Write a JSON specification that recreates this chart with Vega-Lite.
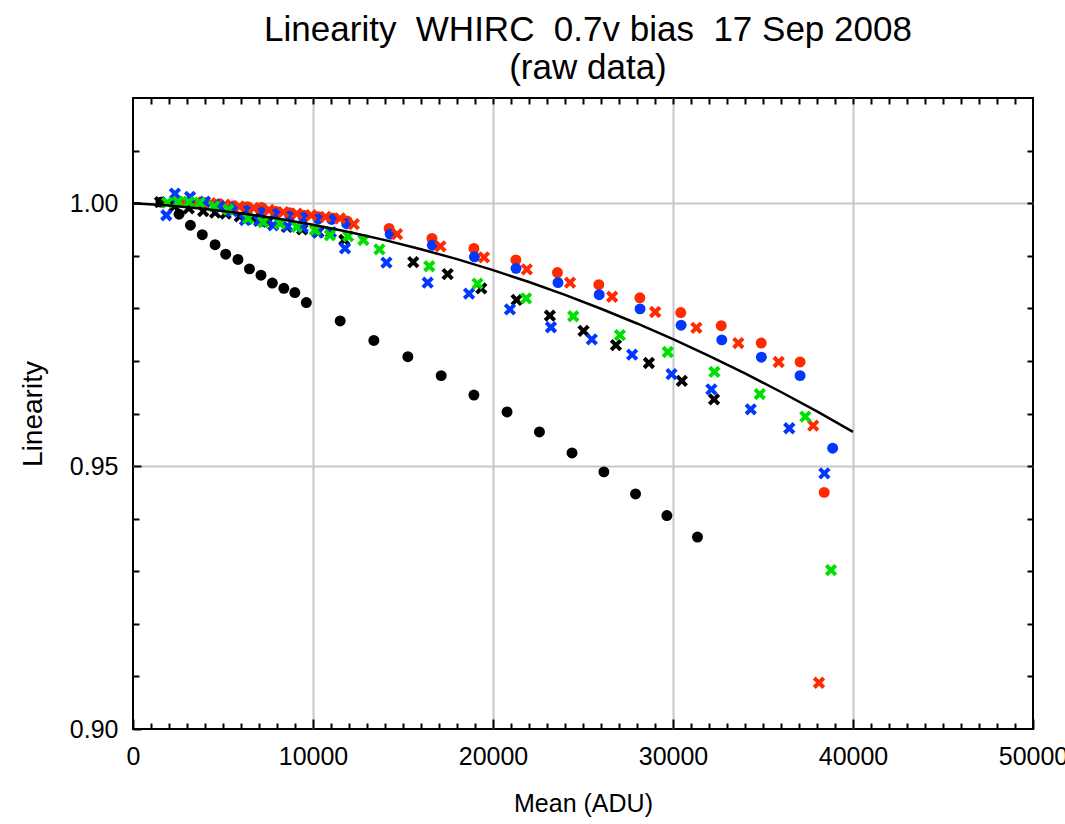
{
  "$schema": "https://vega.github.io/schema/vega-lite/v6.json",
  "width": 900,
  "height": 631,
  "autosize": {"type": "none"},
  "padding": {"left": 133, "top": 98, "right": 32, "bottom": 95},
  "background": "white",
  "title": {
    "text": ["Linearity \u00a0WHIRC \u00a00.7v bias \u00a017 Sep 2008", "(raw data)"],
    "fontSize": 35, "font": "Liberation Sans", "fontWeight": "normal", "color": "black",
    "anchor": "middle", "offset": 11, "lineHeight": 38, "dx": 5
  },
  "config": {
    "view": {"stroke": "black", "strokeWidth": 2},
    "axis": {
      "domain": false, "tickColor": "black", "tickWidth": 2,
      "labelFont": "Liberation Sans", "titleFont": "Liberation Sans",
      "labelColor": "black", "titleColor": "black", "titleFontWeight": "normal",
      "labelFlush": false, "labelOverlap": false
    }
  },
  "datasets": {
    "points": [
      {"series":"black","marker":"circle","mean":1550,"linearity":1.0002},
      {"series":"black","marker":"circle","mean":2560,"linearity":0.9979},
      {"series":"black","marker":"circle","mean":3190,"linearity":0.9958},
      {"series":"black","marker":"circle","mean":3850,"linearity":0.9940},
      {"series":"black","marker":"circle","mean":4560,"linearity":0.9921},
      {"series":"black","marker":"circle","mean":5150,"linearity":0.9903},
      {"series":"black","marker":"circle","mean":5830,"linearity":0.9893},
      {"series":"black","marker":"circle","mean":6470,"linearity":0.9875},
      {"series":"black","marker":"circle","mean":7110,"linearity":0.9863},
      {"series":"black","marker":"circle","mean":7740,"linearity":0.9848},
      {"series":"black","marker":"circle","mean":8380,"linearity":0.9838},
      {"series":"black","marker":"circle","mean":8990,"linearity":0.9830},
      {"series":"black","marker":"circle","mean":9630,"linearity":0.9811},
      {"series":"black","marker":"circle","mean":11510,"linearity":0.9776},
      {"series":"black","marker":"circle","mean":13380,"linearity":0.9739},
      {"series":"black","marker":"circle","mean":15270,"linearity":0.9708},
      {"series":"black","marker":"circle","mean":17120,"linearity":0.9672},
      {"series":"black","marker":"circle","mean":18940,"linearity":0.9635},
      {"series":"black","marker":"circle","mean":20780,"linearity":0.9603},
      {"series":"black","marker":"circle","mean":22580,"linearity":0.9565},
      {"series":"black","marker":"circle","mean":24390,"linearity":0.9525},
      {"series":"black","marker":"circle","mean":26160,"linearity":0.9489},
      {"series":"black","marker":"circle","mean":27920,"linearity":0.9447},
      {"series":"black","marker":"circle","mean":29660,"linearity":0.9406},
      {"series":"black","marker":"circle","mean":31360,"linearity":0.9365},

      {"series":"red","marker":"circle","mean":2400,"linearity":1.0004},
      {"series":"red","marker":"circle","mean":3200,"linearity":1.0002},
      {"series":"red","marker":"circle","mean":4000,"linearity":1.0001},
      {"series":"red","marker":"circle","mean":4800,"linearity":0.9999},
      {"series":"red","marker":"circle","mean":5600,"linearity":0.9995},
      {"series":"red","marker":"circle","mean":6350,"linearity":0.9993},
      {"series":"red","marker":"circle","mean":7150,"linearity":0.9992},
      {"series":"red","marker":"circle","mean":7950,"linearity":0.9984},
      {"series":"red","marker":"circle","mean":8700,"linearity":0.9982},
      {"series":"red","marker":"circle","mean":9500,"linearity":0.9977},
      {"series":"red","marker":"circle","mean":10300,"linearity":0.9974},
      {"series":"red","marker":"circle","mean":11100,"linearity":0.9972},
      {"series":"red","marker":"circle","mean":11900,"linearity":0.9966},
      {"series":"red","marker":"circle","mean":14230,"linearity":0.9952},
      {"series":"red","marker":"circle","mean":16610,"linearity":0.9933},
      {"series":"red","marker":"circle","mean":18940,"linearity":0.9914},
      {"series":"red","marker":"circle","mean":21270,"linearity":0.9892},
      {"series":"red","marker":"circle","mean":23580,"linearity":0.9868},
      {"series":"red","marker":"circle","mean":25880,"linearity":0.9845},
      {"series":"red","marker":"circle","mean":28160,"linearity":0.9820},
      {"series":"red","marker":"circle","mean":30430,"linearity":0.9792},
      {"series":"red","marker":"circle","mean":32680,"linearity":0.9767},
      {"series":"red","marker":"circle","mean":34900,"linearity":0.9734},
      {"series":"red","marker":"circle","mean":37060,"linearity":0.9698},
      {"series":"red","marker":"circle","mean":38400,"linearity":0.9450},

      {"series":"blue","marker":"circle","mean":2400,"linearity":1.0003},
      {"series":"blue","marker":"circle","mean":3200,"linearity":1.0002},
      {"series":"blue","marker":"circle","mean":4000,"linearity":1.0000},
      {"series":"blue","marker":"circle","mean":4800,"linearity":0.9997},
      {"series":"blue","marker":"circle","mean":5600,"linearity":0.9992},
      {"series":"blue","marker":"circle","mean":6350,"linearity":0.9986},
      {"series":"blue","marker":"circle","mean":7150,"linearity":0.9983},
      {"series":"blue","marker":"circle","mean":7930,"linearity":0.9980},
      {"series":"blue","marker":"circle","mean":8720,"linearity":0.9975},
      {"series":"blue","marker":"circle","mean":9460,"linearity":0.9973},
      {"series":"blue","marker":"circle","mean":10290,"linearity":0.9970},
      {"series":"blue","marker":"circle","mean":11040,"linearity":0.9969},
      {"series":"blue","marker":"circle","mean":11870,"linearity":0.9961},
      {"series":"blue","marker":"circle","mean":14290,"linearity":0.9941},
      {"series":"blue","marker":"circle","mean":16630,"linearity":0.9920},
      {"series":"blue","marker":"circle","mean":18970,"linearity":0.9898},
      {"series":"blue","marker":"circle","mean":21280,"linearity":0.9876},
      {"series":"blue","marker":"circle","mean":23610,"linearity":0.9849},
      {"series":"blue","marker":"circle","mean":25900,"linearity":0.9826},
      {"series":"blue","marker":"circle","mean":28170,"linearity":0.9799},
      {"series":"blue","marker":"circle","mean":30450,"linearity":0.9768},
      {"series":"blue","marker":"circle","mean":32710,"linearity":0.9740},
      {"series":"blue","marker":"circle","mean":34910,"linearity":0.9707},
      {"series":"blue","marker":"circle","mean":37060,"linearity":0.9672},
      {"series":"blue","marker":"circle","mean":38870,"linearity":0.9534},

      {"series":"black","marker":"cross","mean":1500,"linearity":1.0002},
      {"series":"black","marker":"cross","mean":2300,"linearity":0.9994},
      {"series":"black","marker":"cross","mean":3100,"linearity":0.9990},
      {"series":"black","marker":"cross","mean":3900,"linearity":0.9985},
      {"series":"black","marker":"cross","mean":4560,"linearity":0.9982},
      {"series":"black","marker":"cross","mean":5150,"linearity":0.9980},
      {"series":"black","marker":"cross","mean":5930,"linearity":0.9975},
      {"series":"black","marker":"cross","mean":6700,"linearity":0.9970},
      {"series":"black","marker":"cross","mean":7500,"linearity":0.9965},
      {"series":"black","marker":"cross","mean":8550,"linearity":0.9955},
      {"series":"black","marker":"cross","mean":9400,"linearity":0.9950},
      {"series":"black","marker":"cross","mean":10300,"linearity":0.9945},
      {"series":"black","marker":"cross","mean":11740,"linearity":0.9930},
      {"series":"black","marker":"cross","mean":15570,"linearity":0.9888},
      {"series":"black","marker":"cross","mean":17480,"linearity":0.9865},
      {"series":"black","marker":"cross","mean":19350,"linearity":0.9838},
      {"series":"black","marker":"cross","mean":21310,"linearity":0.9816},
      {"series":"black","marker":"cross","mean":23160,"linearity":0.9786},
      {"series":"black","marker":"cross","mean":25030,"linearity":0.9757},
      {"series":"black","marker":"cross","mean":26830,"linearity":0.9730},
      {"series":"black","marker":"cross","mean":28660,"linearity":0.9696},
      {"series":"black","marker":"cross","mean":30490,"linearity":0.9662},
      {"series":"black","marker":"cross","mean":32280,"linearity":0.9627},

      {"series":"red","marker":"cross","mean":2700,"linearity":1.0002},
      {"series":"red","marker":"cross","mean":3500,"linearity":1.0001},
      {"series":"red","marker":"cross","mean":4300,"linearity":1.0000},
      {"series":"red","marker":"cross","mean":5100,"linearity":0.9997},
      {"series":"red","marker":"cross","mean":5900,"linearity":0.9994},
      {"series":"red","marker":"cross","mean":6700,"linearity":0.9991},
      {"series":"red","marker":"cross","mean":7550,"linearity":0.9987},
      {"series":"red","marker":"cross","mean":8350,"linearity":0.9983},
      {"series":"red","marker":"cross","mean":9100,"linearity":0.9980},
      {"series":"red","marker":"cross","mean":9900,"linearity":0.9977},
      {"series":"red","marker":"cross","mean":10700,"linearity":0.9974},
      {"series":"red","marker":"cross","mean":11500,"linearity":0.9971},
      {"series":"red","marker":"cross","mean":12270,"linearity":0.9960},
      {"series":"red","marker":"cross","mean":14670,"linearity":0.9941},
      {"series":"red","marker":"cross","mean":17080,"linearity":0.9918},
      {"series":"red","marker":"cross","mean":19500,"linearity":0.9897},
      {"series":"red","marker":"cross","mean":21880,"linearity":0.9874},
      {"series":"red","marker":"cross","mean":24280,"linearity":0.9849},
      {"series":"red","marker":"cross","mean":26620,"linearity":0.9822},
      {"series":"red","marker":"cross","mean":29010,"linearity":0.9793},
      {"series":"red","marker":"cross","mean":31300,"linearity":0.9763},
      {"series":"red","marker":"cross","mean":33630,"linearity":0.9734},
      {"series":"red","marker":"cross","mean":35870,"linearity":0.9698},
      {"series":"red","marker":"cross","mean":37790,"linearity":0.9577},
      {"series":"red","marker":"cross","mean":38110,"linearity":0.9088},

      {"series":"blue","marker":"cross","mean":1850,"linearity":0.9977},
      {"series":"blue","marker":"cross","mean":2330,"linearity":1.0018},
      {"series":"blue","marker":"cross","mean":3170,"linearity":1.0012},
      {"series":"blue","marker":"cross","mean":4000,"linearity":1.0003},
      {"series":"blue","marker":"cross","mean":4800,"linearity":0.9994},
      {"series":"blue","marker":"cross","mean":5500,"linearity":0.9985},
      {"series":"blue","marker":"cross","mean":6220,"linearity":0.9968},
      {"series":"blue","marker":"cross","mean":7000,"linearity":0.9966},
      {"series":"blue","marker":"cross","mean":7790,"linearity":0.9958},
      {"series":"blue","marker":"cross","mean":8600,"linearity":0.9956},
      {"series":"blue","marker":"cross","mean":9430,"linearity":0.9954},
      {"series":"blue","marker":"cross","mean":10260,"linearity":0.9944},
      {"series":"blue","marker":"cross","mean":11000,"linearity":0.9945},
      {"series":"blue","marker":"cross","mean":11780,"linearity":0.9914},
      {"series":"blue","marker":"cross","mean":14080,"linearity":0.9887},
      {"series":"blue","marker":"cross","mean":16370,"linearity":0.9849},
      {"series":"blue","marker":"cross","mean":18670,"linearity":0.9828},
      {"series":"blue","marker":"cross","mean":20940,"linearity":0.9798},
      {"series":"blue","marker":"cross","mean":23220,"linearity":0.9764},
      {"series":"blue","marker":"cross","mean":25490,"linearity":0.9741},
      {"series":"blue","marker":"cross","mean":27730,"linearity":0.9712},
      {"series":"blue","marker":"cross","mean":29920,"linearity":0.9675},
      {"series":"blue","marker":"cross","mean":32130,"linearity":0.9646},
      {"series":"blue","marker":"cross","mean":34320,"linearity":0.9608},
      {"series":"blue","marker":"cross","mean":36460,"linearity":0.9572},
      {"series":"blue","marker":"cross","mean":38410,"linearity":0.9486},

      {"series":"green","marker":"cross","mean":1900,"linearity":1.0001},
      {"series":"green","marker":"cross","mean":2500,"linearity":1.0003},
      {"series":"green","marker":"cross","mean":3100,"linearity":1.0002},
      {"series":"green","marker":"cross","mean":3700,"linearity":1.0001},
      {"series":"green","marker":"cross","mean":4500,"linearity":0.9994},
      {"series":"green","marker":"cross","mean":5300,"linearity":0.9988},
      {"series":"green","marker":"cross","mean":6400,"linearity":0.9971},
      {"series":"green","marker":"cross","mean":7240,"linearity":0.9964},
      {"series":"green","marker":"cross","mean":8170,"linearity":0.9961},
      {"series":"green","marker":"cross","mean":9100,"linearity":0.9955},
      {"series":"green","marker":"cross","mean":10110,"linearity":0.9949},
      {"series":"green","marker":"cross","mean":10940,"linearity":0.9939},
      {"series":"green","marker":"cross","mean":11950,"linearity":0.9937},
      {"series":"green","marker":"cross","mean":12800,"linearity":0.9930},
      {"series":"green","marker":"cross","mean":13690,"linearity":0.9912},
      {"series":"green","marker":"cross","mean":16460,"linearity":0.9880},
      {"series":"green","marker":"cross","mean":19140,"linearity":0.9847},
      {"series":"green","marker":"cross","mean":21840,"linearity":0.9819},
      {"series":"green","marker":"cross","mean":24460,"linearity":0.9785},
      {"series":"green","marker":"cross","mean":27050,"linearity":0.9749},
      {"series":"green","marker":"cross","mean":29710,"linearity":0.9717},
      {"series":"green","marker":"cross","mean":32300,"linearity":0.9679},
      {"series":"green","marker":"cross","mean":34820,"linearity":0.9637},
      {"series":"green","marker":"cross","mean":37350,"linearity":0.9594},
      {"series":"green","marker":"cross","mean":38780,"linearity":0.9302}
    ],
    "fit": [
      {"mean":0,"linearity":1.0000},
      {"mean":2000,"linearity":0.99954},
      {"mean":4000,"linearity":0.99889},
      {"mean":6000,"linearity":0.99807},
      {"mean":8000,"linearity":0.99707},
      {"mean":10000,"linearity":0.99588},
      {"mean":12000,"linearity":0.99452},
      {"mean":14000,"linearity":0.99297},
      {"mean":16000,"linearity":0.99125},
      {"mean":18000,"linearity":0.98935},
      {"mean":20000,"linearity":0.98726},
      {"mean":22000,"linearity":0.98500},
      {"mean":24000,"linearity":0.98255},
      {"mean":26000,"linearity":0.97992},
      {"mean":28000,"linearity":0.97712},
      {"mean":30000,"linearity":0.97413},
      {"mean":32000,"linearity":0.97097},
      {"mean":34000,"linearity":0.96762},
      {"mean":36000,"linearity":0.96409},
      {"mean":38000,"linearity":0.96039},
      {"mean":40000,"linearity":0.95650}
    ]
  },
  "resolve": {"axis": {"x": "independent", "y": "independent"}},
  "layer": [
    {
      "data": {"name": "points"},
      "transform": [{"filter": "datum.marker === 'circle'"}],
      "mark": {"type": "point", "shape": "circle", "filled": true, "size": 120, "opacity": 1},
      "encoding": {
        "x": {"field": "mean", "type": "quantitative",
          "scale": {"domain": [0, 50000], "nice": false, "zero": false},
          "axis": {"orient": "bottom", "values": [0, 10000, 20000, 30000, 40000, 50000], "format": "d",
            "tickSize": -10, "labelPadding": 25, "labelFontSize": 25,
            "title": "Mean (ADU)", "titleFontSize": 25, "titlePadding": 22,
            "grid": true, "gridColor": "#c8c8c8", "gridWidth": 2,
            "gridOpacity": {"condition": {"test": "datum.value == 0 || datum.value == 50000", "value": 0}, "value": 1}}},
        "y": {"field": "linearity", "type": "quantitative",
          "scale": {"domain": [0.9, 1.02], "nice": false, "zero": false},
          "axis": {"orient": "left", "values": [0.9, 0.95, 1.0], "format": ".2f",
            "tickSize": -8, "labelPadding": 23, "labelFontSize": 25,
            "title": "Linearity", "titleFontSize": 28, "titlePadding": 22,
            "grid": true, "gridColor": "#c8c8c8", "gridWidth": 2,
            "gridOpacity": {"condition": {"test": "datum.value == 0.9", "value": 0}, "value": 1}}},
        "color": {"field": "series", "type": "nominal", "legend": null,
          "scale": {"domain": ["black", "red", "blue", "green"], "range": ["#000000", "#ff2a00", "#0038ff", "#00e000"]}}
      }
    },
    {
      "data": {"name": "points"},
      "transform": [{"filter": "datum.marker === 'cross'"}],
      "mark": {"type": "point", "shape": "M-1,-1L1,1M-1,1L1,-1", "filled": false, "size": 90, "strokeWidth": 4, "opacity": 1},
      "encoding": {
        "x": {"field": "mean", "type": "quantitative",
          "axis": {"orient": "bottom", "values": [1000,2000,3000,4000,5000,6000,7000,8000,9000,11000,12000,13000,14000,15000,16000,17000,18000,19000,21000,22000,23000,24000,25000,26000,27000,28000,29000,31000,32000,33000,34000,35000,36000,37000,38000,39000,41000,42000,43000,44000,45000,46000,47000,48000,49000],
            "tickSize": -6, "labels": false, "title": null, "grid": false}},
        "y": {"field": "linearity", "type": "quantitative",
          "axis": {"orient": "left", "values": [0.91, 0.92, 0.93, 0.94, 0.96, 0.97, 0.98, 0.99, 1.01],
            "tickSize": -6, "labels": false, "title": null, "grid": false}},
        "color": {"field": "series", "type": "nominal", "legend": null}
      }
    },
    {
      "data": {"name": "fit"},
      "mark": {"type": "line", "color": "black", "strokeWidth": 2.5},
      "encoding": {
        "x": {"field": "mean", "type": "quantitative",
          "axis": {"orient": "top", "values": [1000,2000,3000,4000,5000,6000,7000,8000,9000,10000,11000,12000,13000,14000,15000,16000,17000,18000,19000,20000,21000,22000,23000,24000,25000,26000,27000,28000,29000,30000,31000,32000,33000,34000,35000,36000,37000,38000,39000,40000,41000,42000,43000,44000,45000,46000,47000,48000,49000],
            "tickSize": -6, "labels": false, "title": null, "grid": false}},
        "y": {"field": "linearity", "type": "quantitative",
          "axis": {"orient": "right", "values": [0.91, 0.92, 0.93, 0.94, 0.95, 0.96, 0.97, 0.98, 0.99, 1.0, 1.01],
            "tickSize": -6, "labels": false, "title": null, "grid": false}}
      }
    }
  ]
}
